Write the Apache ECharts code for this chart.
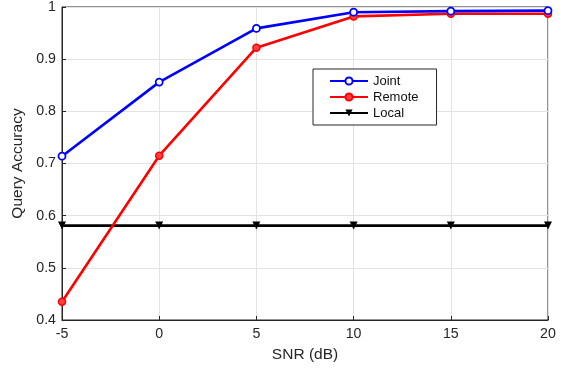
<!DOCTYPE html>
<html><head><meta charset="utf-8">
<script src="https://cdn.jsdelivr.net/npm/echarts@6/dist/echarts.min.js"></script>
<style>html,body{margin:0;padding:0;background:#fff}#c{width:570px;height:368px}</style>
</head><body><div id="c"></div>
<script>
const snr = [-5, 0, 5, 10, 15, 20];
const joint = [0.714, 0.856, 0.959, 0.990, 0.992, 0.993];
const remote = [0.435, 0.715, 0.922, 0.982, 0.987, 0.987];
const local = [0.581, 0.581, 0.581, 0.581, 0.581, 0.581];
const xTicks = [-5, 0, 5, 10, 15, 20];
const yTicks = [0.4, 0.5, 0.6, 0.7, 0.8, 0.9, 1];

const pair = arr => snr.map((x, i) => [x, arr[i]]);
const font = 'Liberation Sans, Arial, sans-serif';
const chart = echarts.init(document.getElementById('c'));
chart.setOption({
  animation: false,
  backgroundColor: '#fff',
  grid: { left: 62, right: 22, top: 5, bottom: 48, show: true, borderColor: '#262626', borderWidth: 1, backgroundColor: '#fff' },
  xAxis: {
    type: 'value', min: xTicks[0], max: xTicks[xTicks.length - 1], interval: 5,
    name: 'SNR (dB)', nameLocation: 'middle', nameGap: 27,
    nameTextStyle: { fontFamily: font, fontSize: 15.5, color: '#262626' },
    axisLine: { show: true, onZero: false, lineStyle: { color: '#262626', width: 1 } },
    axisTick: { show: true, inside: true, length: 4, lineStyle: { color: '#262626' } },
    axisLabel: { fontFamily: font, fontSize: 14.2, color: '#262626', margin: 7 },
    splitLine: { show: true, lineStyle: { color: '#e3e3e3', width: 1 } }
  },
  yAxis: {
    type: 'value', min: yTicks[0], max: yTicks[yTicks.length - 1], interval: 0.1,
    name: 'Query Accuracy', nameLocation: 'middle', nameGap: 30,
    nameTextStyle: { fontFamily: font, fontSize: 15.5, color: '#262626' },
    axisLine: { show: true, onZero: false, lineStyle: { color: '#262626', width: 1 } },
    axisTick: { show: true, inside: true, length: 4, lineStyle: { color: '#262626' } },
    axisLabel: { fontFamily: font, fontSize: 14.2, color: '#262626', margin: 6,
      formatter: v => (Math.abs(v - 1) < 1e-9 ? '1' : (+v.toFixed(1)).toString()) },
    splitLine: { show: true, lineStyle: { color: '#e3e3e3', width: 1 } }
  },
  legend: {
    orient: 'vertical', left: 313, top: 69, itemGap: 0,
    padding: [4, 18, 4, 16],
    backgroundColor: '#fff', borderColor: '#262626', borderWidth: 1,
    itemWidth: 38, itemHeight: 9,
    textStyle: { fontFamily: font, fontSize: 13, color: '#111', lineHeight: 16 },
    data: ['Joint', 'Remote', 'Local']
  },
  series: [
    { name: 'Local', type: 'line', data: pair(local), color: '#000',
      symbol: 'triangle', symbolRotate: 180, symbolSize: 8,
      lineStyle: { width: 2.6, color: '#000' }, itemStyle: { color: '#000' }, z: 2 },
    { name: 'Remote', type: 'line', data: pair(remote), color: '#ff0000',
      symbol: 'circle', symbolSize: 7,
      lineStyle: { width: 2.6, color: '#ff0000' }, itemStyle: { color: '#ff4040', borderColor: '#ff0000', borderWidth: 1.5 }, z: 3 },
    { name: 'Joint', type: 'line', data: pair(joint), color: '#0000ff',
      symbol: 'circle', symbolSize: 7,
      lineStyle: { width: 2.6, color: '#0000ff' }, itemStyle: { color: '#ffffff', borderColor: '#0000ff', borderWidth: 1.8 }, z: 4 }
  ]
});
</script></body></html>
